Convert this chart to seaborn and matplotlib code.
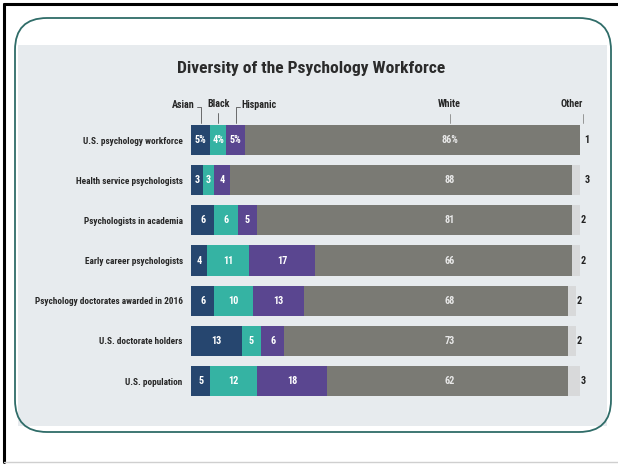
import matplotlib
matplotlib.use("Agg")
import matplotlib.pyplot as plt
from matplotlib import font_manager as fm
import seaborn as sns
import numpy as np
import pandas as pd
from matplotlib.patches import FancyBboxPatch, Rectangle

sns.set_theme(style="white")
available = {f.name for f in fm.fontManager.ttflist}
chosen = None
for cand in ["Liberation Sans Narrow", "DejaVu Sans Condensed", "Roboto Condensed",
             "Open Sans Condensed", "Roboto", "Liberation Sans"]:
    if cand in available:
        chosen = cand
        break
plt.rcParams['font.family'] = [chosen or 'DejaVu Sans', 'DejaVu Sans']

# ---------------- data ----------------
categories = [
    "U.S. psychology workforce",
    "Health service psychologists",
    "Psychologists in academia",
    "Early career psychologists",
    "Psychology doctorates awarded in 2016",
    "U.S. doctorate holders",
    "U.S. population",
]
groups = ["Asian", "Black", "Hispanic", "White", "Other"]
asian = [5, 3, 6, 4, 6, 13, 5]
black = [4, 3, 6, 11, 10, 5, 12]
hispanic = [5, 4, 5, 17, 13, 6, 18]
white = [86, 88, 81, 66, 68, 73, 62]
other = [1, 3, 2, 2, 2, 2, 3]
colors = ["#26466f", "#35b3a3", "#5a4690", "#7a7a74", "#d8d9da"]
title = "Diversity of the Psychology Workforce"

series = [asian, black, hispanic, white, other]
vals = np.array(series, dtype=float)          # shape (5, 7)
cum = np.cumsum(vals, axis=0)
starts = cum - vals

W, H = 618, 465
fig = plt.figure(figsize=(W / 100, H / 100), dpi=100)
fig.patch.set_facecolor("white")

# ---------- background frame (pixel coordinates) ----------
bg = fig.add_axes([0, 0, 1, 1], zorder=0)
bg.set_xlim(0, W)
bg.set_ylim(H, 0)
bg.axis("off")
bg.add_patch(Rectangle((18, 45), 589, 381, facecolor="#e7ebee", edgecolor="none"))
bg.add_patch(FancyBboxPatch((15, 18), 596, 414,
                            boxstyle="round,pad=0,rounding_size=32",
                            facecolor="none", edgecolor="#2f6c68", linewidth=1.3))
bg.plot([4, 4], [4, 462], color="black", lw=2.2)
bg.plot([4, 618], [4, 4], color="black", lw=2.2)
bg.plot([4, 618], [462, 462], color="#cfcfcf", lw=1.0)

# ---------- chart axes ----------
x0, x1 = 191, 580
yc0, yc6 = 140, 381
step = (yc6 - yc0) / 6
top = yc0 - step / 2
bot = yc6 + step / 2
ax = fig.add_axes([x0 / W, 1 - bot / H, (x1 - x0) / W, (bot - top) / H], zorder=2)
ax.patch.set_alpha(0)

df_rows = []
for gi, g in enumerate(groups):
    for ci, c in enumerate(categories):
        df_rows.append({"category": c, "group": g, "cum": cum[gi, ci]})
df = pd.DataFrame(df_rows)

for gi in range(len(groups) - 1, -1, -1):
    sub = df[df["group"] == groups[gi]]
    sns.barplot(data=sub, x="cum", y="category", order=categories,
                color=colors[gi], saturation=1, width=0.75, ax=ax,
                edgecolor="none", linewidth=0)

ax.set_xlim(0, 100)
ax.set_ylim(len(categories) - 0.5, -0.5)
ax.set_xlabel("")
ax.set_ylabel("")
ax.set_xticks([])
for s in ax.spines.values():
    s.set_visible(False)
ax.tick_params(axis="y", length=0, pad=6)
for lab in ax.get_yticklabels():
    lab.set_fontsize(6.7)
    lab.set_fontweight("bold")
    lab.set_color("#262626")

fs = 7.4
white_label_x = 66.5
for ci in range(len(categories)):
    suffix = "%" if ci == 0 else ""
    for gi in range(3):
        ax.text(starts[gi, ci] + vals[gi, ci] / 2, ci, f"{int(vals[gi, ci])}{suffix}",
                ha="center", va="center", color="white", fontsize=fs, fontweight="bold")
    ax.text(white_label_x, ci, f"{int(white[ci])}{suffix}", ha="center", va="center",
            color="#e8e8e8", fontsize=fs, fontweight="bold")
    ax.text(cum[4, ci] + 0.2, ci, f"{int(other[ci])}", ha="left", va="center",
            color="#222222", fontsize=fs, fontweight="bold")

# ---------- group labels with connectors ----------
bar_top = -0.375
lab_y = -0.87
lfs = 7.2
conn = [starts[0, 0] + vals[0, 0] / 2, starts[1, 0] + vals[1, 0] / 2,
        starts[2, 0] + vals[2, 0] / 2, white_label_x, cum[4, 0] - 0.2]
lc = "#555555"
ax.plot([conn[0] - 1.0, conn[0], conn[0]], [lab_y + 0.05, lab_y + 0.05, bar_top - 0.05],
        color=lc, lw=0.6, clip_on=False)
ax.text(conn[0] - 1.5, lab_y, "Asian", ha="right", va="center", fontsize=lfs,
        fontweight="bold", color="#262626")
ax.plot([conn[1], conn[1]], [lab_y + 0.2, bar_top - 0.05], color=lc, lw=0.6, clip_on=False)
ax.text(conn[1], lab_y - 0.02, "Black", ha="center", va="center", fontsize=lfs,
        fontweight="bold", color="#262626")
ax.plot([conn[2] + 1.0, conn[2], conn[2]], [lab_y + 0.05, lab_y + 0.05, bar_top - 0.05],
        color=lc, lw=0.6, clip_on=False)
ax.text(conn[2] + 1.5, lab_y, "Hispanic", ha="left", va="center", fontsize=lfs,
        fontweight="bold", color="#262626")
ax.plot([conn[3], conn[3]], [lab_y + 0.22, bar_top - 0.05], color="#888888", lw=0.6,
        clip_on=False)
ax.text(conn[3], lab_y - 0.02, "White", ha="center", va="center", fontsize=lfs,
        fontweight="bold", color="#262626")
ax.plot([conn[4], conn[4]], [lab_y + 0.22, bar_top - 0.05], color="#888888", lw=0.6,
        clip_on=False)
ax.text(conn[4], lab_y - 0.02, "Other", ha="right", va="center", fontsize=lfs,
        fontweight="bold", color="#262626")

fig.text(311 / W, 1 - 68 / H, title, ha="center", va="center", fontsize=12.6,
         fontweight="bold", color="#2b2b2b")

fig.savefig("out.png", dpi=100)
